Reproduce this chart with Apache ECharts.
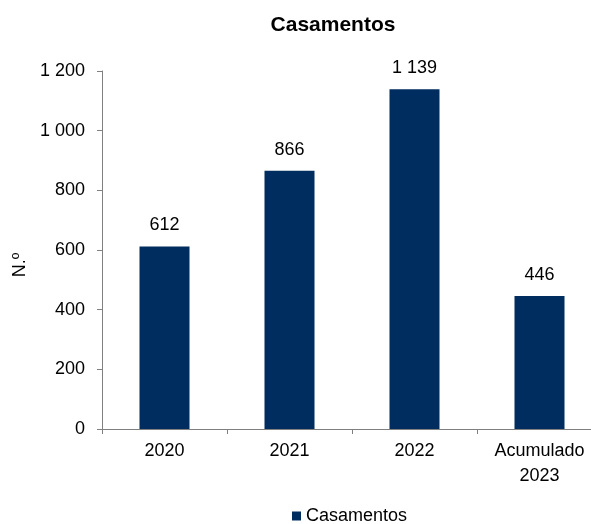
<!DOCTYPE html>
<html>
<head>
<meta charset="utf-8">
<script src="https://cdn.jsdelivr.net/npm/echarts@6/dist/echarts.min.js"></script>
<style>html,body{margin:0;padding:0;background:#fff}#c{width:591px;height:524px}</style>
</head>
<body>
<div id="c"></div>
<script>
var categories = ['2020', '2021', '2022', 'Acumulado\n2023'];
var values = [612, 866, 1139, 446];
var seriesName = 'Casamentos';
var yTicks = [0, 200, 400, 600, 800, 1000, 1200];

function fmt(v) {
  return String(v).replace(/\B(?=(\d{3})+(?!\d))/g, ' ');
}

var FONT = 'Liberation Sans, Arial, sans-serif';
var chart = echarts.init(document.getElementById('c'), null, {renderer: 'canvas'});
chart.setOption({
  animation: false,
  backgroundColor: '#fff',
  textStyle: {fontFamily: FONT},
  title: {
    text: 'Casamentos',
    left: 328, top: 10, textAlign: 'center',
    textStyle: {fontSize: 21, fontWeight: 'bold', color: '#000', fontFamily: FONT}
  },
  legend: {
    data: [seriesName],
    top: 507, left: 292,
    padding: 0,
    icon: 'rect', itemWidth: 9, itemHeight: 9,
    textStyle: {fontSize: 18, color: '#000', fontFamily: FONT}
  },
  grid: {left: 102, top: 71, width: 500, height: 358, containLabel: false, outerBoundsMode: 'none'},
  xAxis: {
    type: 'category',
    data: categories,
    axisLine: {lineStyle: {color: '#808080', width: 1}},
    axisTick: {show: true, alignWithLabel: false, length: 5, lineStyle: {color: '#808080'}},
    axisLabel: {fontSize: 18, color: '#000', margin: 10, lineHeight: 25, interval: 0, fontFamily: FONT}
  },
  yAxis: {
    type: 'value',
    min: yTicks[0], max: yTicks[yTicks.length - 1], interval: 200,
    name: 'N.º',
    nameLocation: 'middle',
    nameRotate: 90,
    nameGap: 70,
    nameTextStyle: {fontSize: 18, color: '#000', fontFamily: FONT, padding: [0, 30, 0, 0]},
    axisLine: {show: true, lineStyle: {color: '#808080', width: 1}},
    axisTick: {show: true, length: 5, lineStyle: {color: '#808080'}},
    splitLine: {show: false},
    axisLabel: {fontSize: 18, color: '#000', margin: 17, fontFamily: FONT, formatter: function (v) { return fmt(v); }}
  },
  series: [{
    name: seriesName,
    type: 'bar',
    data: values,
    barWidth: '40%',
    itemStyle: {color: '#002d5f'},
    label: {
      show: true, position: 'top', distance: 12,
      fontSize: 18, color: '#000', fontFamily: FONT,
      formatter: function (p) { return fmt(p.value); }
    }
  }]
});
</script>
</body>
</html>
